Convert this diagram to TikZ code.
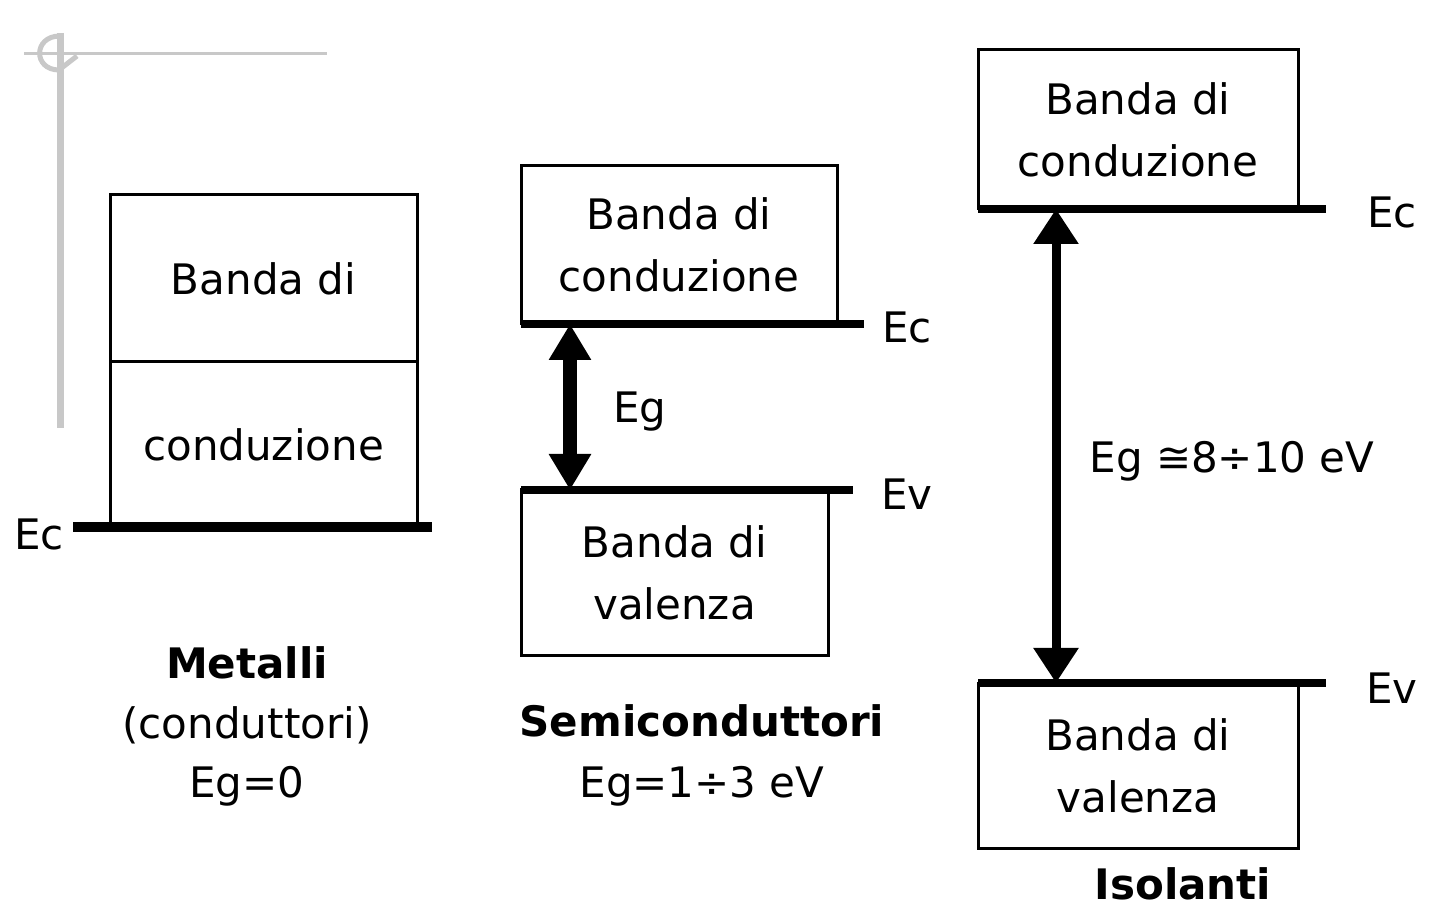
\documentclass[tikz,border=0pt]{standalone}
\usepackage{fontspec}
\setmainfont{DejaVu Sans}
\usetikzlibrary{arrows.meta,positioning}

\definecolor{ghostgray}{RGB}{200,200,200}

\begin{document}
\begin{tikzpicture}[
  x=0.5pt,y=-0.5pt,
  font=\fontsize{21}{31}\selectfont,
  band/.style={draw,line width=1.5pt,inner sep=0pt,outer sep=0pt,align=center},
  level/.style={line width=4pt},
  lbl/.style={anchor=base,inner sep=0pt},
  title/.style={lbl,font=\fontsize{21}{31}\selectfont\bfseries},
  ghost/.style={draw=ghostgray},
  sgap/.style={line width=7pt,{Triangle[length=18pt,width=20pt]}-{Triangle[length=18pt,width=20pt]}},
  igap/.style={line width=4.5pt,{Triangle[length=17.5pt,width=21.5pt]}-{Triangle[length=17.5pt,width=21.5pt]}}
]
\useasboundingbox (0,0) rectangle (1435,908);

% grey marker top left
\draw[ghost,line width=1.5pt] (24,54) -- (327,54);
\draw[ghost,line width=3.5pt] (60,33) -- (60,428);
\draw[ghost,line width=2.5pt] (60,36) .. controls (33,36) and (33,70) .. (59,70) -- (77,56);

% metalli
\node[band,minimum width=153.5pt,minimum height=83.5pt] (mtop) at (263.5,278.5) {Banda di};
\node[band,minimum width=153.5pt,minimum height=82.5pt] (mlow) at (263.5,444.5) {conduzione};
\draw[level,line width=5pt] ([xshift=-18.5pt]mlow.south west) -- ([xshift=7.5pt]mlow.south east);
\node[lbl] (mEc) at (39,550) {Ec};
\node[title] (mName) at (247,678) {Metalli};
\node[lbl] (mKind) at (247,738) {(conduttori)};
\node[lbl] (mEg) at (247,797) {Eg=0};

% semiconduttori
\node[band,minimum width=158pt,minimum height=79pt] (scb) at (679,245) {Banda di\\conduzione};
\node[band,minimum width=153.5pt,minimum height=83pt] (svb) at (674.5,573) {Banda di\\valenza};
\draw[level] (scb.south west) -- ([xshift=13.5pt]scb.south east);
\draw[level] (svb.north west) -- ([xshift=12.5pt]svb.north east);
\draw[sgap] ([xshift=24.5pt]scb.south west) -- ([xshift=24.5pt]svb.north west);
\node[lbl] (sEc) at (907,343) {Ec};
\node[lbl] (sEv) at (907,510) {Ev};
\node[lbl] (sEg) at (640,423) {Eg};
\node[title] (sName) at (702,736) {Semiconduttori};
\node[lbl] (sVal) at (702,797) {Eg=1÷3 eV};

% isolanti
\node[band,minimum width=160pt,minimum height=79.5pt] (icb) at (1138,129.5) {Banda di\\conduzione};
\node[band,minimum width=160pt,minimum height=82.5pt] (ivb) at (1138,765.5) {Banda di\\valenza};
\draw[level] (icb.south west) -- ([xshift=14pt]icb.south east);
\draw[level] (ivb.north west) -- ([xshift=14pt]ivb.north east);
\draw[igap] ([xshift=39pt]icb.south west) -- ([xshift=39pt]ivb.north west);
\node[lbl] (iEc) at (1392,228) {Ec};
\node[lbl] (iEv) at (1392,704) {Ev};
\node[lbl] (iEg) at (1232,473) {Eg ≅8÷10 eV};
\node[title] (iName) at (1183,899) {Isolanti};
\end{tikzpicture}
\end{document}
